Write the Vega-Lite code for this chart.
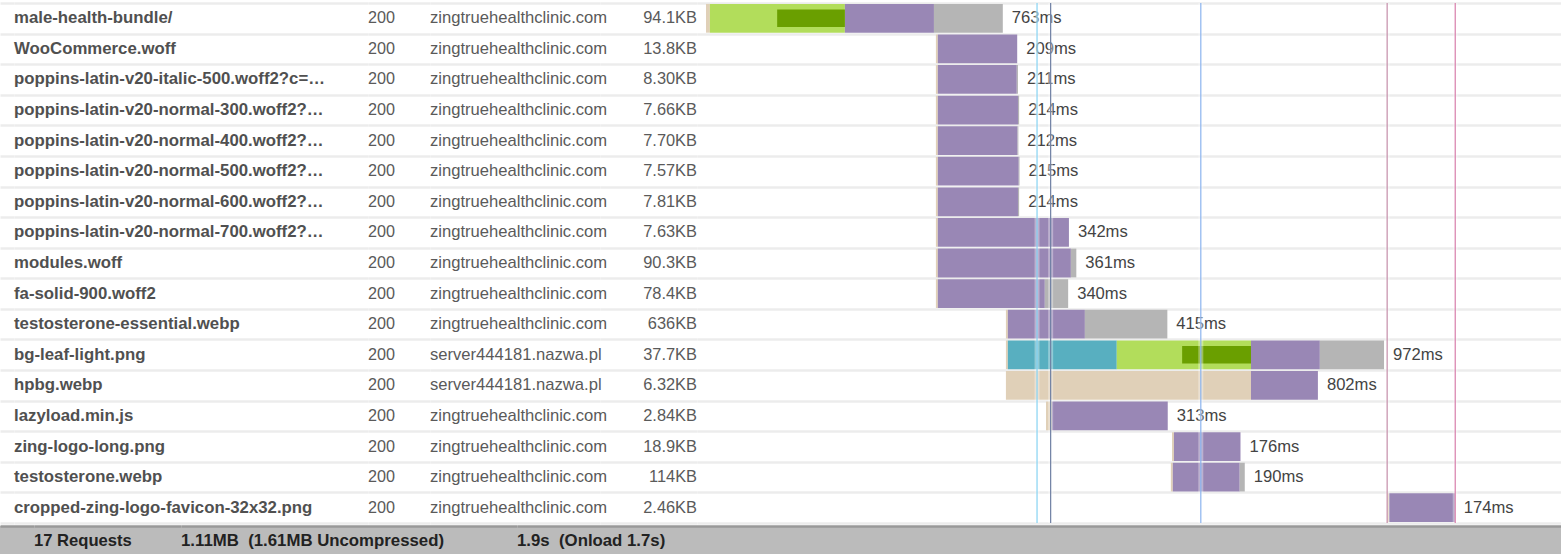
{
  "$schema": "https://vega.github.io/schema/vega-lite/v6.json",
  "background": "white",
  "padding": {"left": 0, "top": 0, "right": 0, "bottom": 0},
  "config": {"view": {"stroke": null}, "font": "Liberation Sans", "concat": {"spacing": 0}},
  "datasets": {
    "rows": [
      {"i": 1, "name": "male-health-bundle/", "status": "200", "domain": "zingtruehealthclinic.com", "size": "94.1KB", "label": "763ms", "end": 763},
      {"i": 2, "name": "WooCommerce.woff", "status": "200", "domain": "zingtruehealthclinic.com", "size": "13.8KB", "label": "209ms", "end": 800},
      {"i": 3, "name": "poppins-latin-v20-italic-500.woff2?c=…", "status": "200", "domain": "zingtruehealthclinic.com", "size": "8.30KB", "label": "211ms", "end": 802},
      {"i": 4, "name": "poppins-latin-v20-normal-300.woff2?…", "status": "200", "domain": "zingtruehealthclinic.com", "size": "7.66KB", "label": "214ms", "end": 805},
      {"i": 5, "name": "poppins-latin-v20-normal-400.woff2?…", "status": "200", "domain": "zingtruehealthclinic.com", "size": "7.70KB", "label": "212ms", "end": 803},
      {"i": 6, "name": "poppins-latin-v20-normal-500.woff2?…", "status": "200", "domain": "zingtruehealthclinic.com", "size": "7.57KB", "label": "215ms", "end": 806},
      {"i": 7, "name": "poppins-latin-v20-normal-600.woff2?…", "status": "200", "domain": "zingtruehealthclinic.com", "size": "7.81KB", "label": "214ms", "end": 805},
      {"i": 8, "name": "poppins-latin-v20-normal-700.woff2?…", "status": "200", "domain": "zingtruehealthclinic.com", "size": "7.63KB", "label": "342ms", "end": 933},
      {"i": 9, "name": "modules.woff", "status": "200", "domain": "zingtruehealthclinic.com", "size": "90.3KB", "label": "361ms", "end": 952},
      {"i": 10, "name": "fa-solid-900.woff2", "status": "200", "domain": "zingtruehealthclinic.com", "size": "78.4KB", "label": "340ms", "end": 931},
      {"i": 11, "name": "testosterone-essential.webp", "status": "200", "domain": "zingtruehealthclinic.com", "size": "636KB", "label": "415ms", "end": 1186},
      {"i": 12, "name": "bg-leaf-light.png", "status": "200", "domain": "server444181.nazwa.pl", "size": "37.7KB", "label": "972ms", "end": 1743},
      {"i": 13, "name": "hpbg.webp", "status": "200", "domain": "server444181.nazwa.pl", "size": "6.32KB", "label": "802ms", "end": 1573},
      {"i": 14, "name": "lazyload.min.js", "status": "200", "domain": "zingtruehealthclinic.com", "size": "2.84KB", "label": "313ms", "end": 1187},
      {"i": 15, "name": "zing-logo-long.png", "status": "200", "domain": "zingtruehealthclinic.com", "size": "18.9KB", "label": "176ms", "end": 1374},
      {"i": 16, "name": "testosterone.webp", "status": "200", "domain": "zingtruehealthclinic.com", "size": "114KB", "label": "190ms", "end": 1385},
      {"i": 17, "name": "cropped-zing-logo-favicon-32x32.png", "status": "200", "domain": "zingtruehealthclinic.com", "size": "2.46KB", "label": "174ms", "end": 1925}
    ],
    "segs": [
      {"i": 1, "phase": "blocked", "t0": 0, "t1": 10},
      {"i": 1, "phase": "connect", "t0": 10, "t1": 357},
      {"i": 1, "phase": "ssl", "t0": 183, "t1": 357},
      {"i": 1, "phase": "wait", "t0": 357, "t1": 586},
      {"i": 1, "phase": "receive", "t0": 586, "t1": 763},
      {"i": 2, "phase": "blocked", "t0": 591, "t1": 596},
      {"i": 2, "phase": "wait", "t0": 596, "t1": 800},
      {"i": 3, "phase": "blocked", "t0": 591, "t1": 596},
      {"i": 3, "phase": "wait", "t0": 596, "t1": 799},
      {"i": 3, "phase": "receive", "t0": 799, "t1": 802},
      {"i": 4, "phase": "blocked", "t0": 591, "t1": 596},
      {"i": 4, "phase": "wait", "t0": 596, "t1": 802},
      {"i": 4, "phase": "receive", "t0": 802, "t1": 805},
      {"i": 5, "phase": "blocked", "t0": 591, "t1": 596},
      {"i": 5, "phase": "wait", "t0": 596, "t1": 801},
      {"i": 5, "phase": "receive", "t0": 801, "t1": 803},
      {"i": 6, "phase": "blocked", "t0": 591, "t1": 596},
      {"i": 6, "phase": "wait", "t0": 596, "t1": 804},
      {"i": 6, "phase": "receive", "t0": 804, "t1": 806},
      {"i": 7, "phase": "blocked", "t0": 591, "t1": 596},
      {"i": 7, "phase": "wait", "t0": 596, "t1": 802},
      {"i": 7, "phase": "receive", "t0": 802, "t1": 805},
      {"i": 8, "phase": "blocked", "t0": 591, "t1": 596},
      {"i": 8, "phase": "wait", "t0": 596, "t1": 933},
      {"i": 9, "phase": "blocked", "t0": 591, "t1": 596},
      {"i": 9, "phase": "wait", "t0": 596, "t1": 938},
      {"i": 9, "phase": "receive", "t0": 938, "t1": 952},
      {"i": 10, "phase": "blocked", "t0": 591, "t1": 596},
      {"i": 10, "phase": "wait", "t0": 596, "t1": 871},
      {"i": 10, "phase": "receive", "t0": 871, "t1": 931},
      {"i": 11, "phase": "blocked", "t0": 771, "t1": 776},
      {"i": 11, "phase": "wait", "t0": 776, "t1": 974},
      {"i": 11, "phase": "receive", "t0": 974, "t1": 1186},
      {"i": 12, "phase": "blocked", "t0": 771, "t1": 776},
      {"i": 12, "phase": "dns", "t0": 776, "t1": 1056},
      {"i": 12, "phase": "connect", "t0": 1056, "t1": 1401},
      {"i": 12, "phase": "ssl", "t0": 1224, "t1": 1401},
      {"i": 12, "phase": "wait", "t0": 1401, "t1": 1578},
      {"i": 12, "phase": "receive", "t0": 1578, "t1": 1743},
      {"i": 13, "phase": "blocked", "t0": 771, "t1": 1401},
      {"i": 13, "phase": "wait", "t0": 1401, "t1": 1573},
      {"i": 14, "phase": "blocked", "t0": 874, "t1": 889},
      {"i": 14, "phase": "wait", "t0": 889, "t1": 1187},
      {"i": 15, "phase": "blocked", "t0": 1198, "t1": 1203},
      {"i": 15, "phase": "wait", "t0": 1203, "t1": 1374},
      {"i": 16, "phase": "blocked", "t0": 1195, "t1": 1200},
      {"i": 16, "phase": "wait", "t0": 1200, "t1": 1372},
      {"i": 16, "phase": "receive", "t0": 1372, "t1": 1385},
      {"i": 17, "phase": "blocked", "t0": 1751, "t1": 1756},
      {"i": 17, "phase": "wait", "t0": 1756, "t1": 1925}
    ],
    "events": [
      {"ev": "domInteractive", "t": 851},
      {"ev": "domContentLoaded", "t": 886},
      {"ev": "firstPaint", "t": 1272},
      {"ev": "onload", "t": 1751},
      {"ev": "fullyLoaded", "t": 1926}
    ]
  },
  "spacing": 0,
  "bounds": "full",
  "vconcat": [
    {
      "spacing": 0,
      "bounds": "flush",
      "hconcat": [
        {
          "width": 14, "height": 520,
          "data": {"name": "rows"},
          "mark": {"type": "text", "text": ""},
          "encoding": {
            "y": {"field": "i", "type": "ordinal", "scale": {"paddingInner": 0, "paddingOuter": 0},
                  "axis": {"grid": true, "tickBand": "extent", "labels": false, "ticks": false, "domain": false, "title": null, "gridColor": "#ECECEC", "gridWidth": 2.5}}
          }
        },
        {
          "width": 354, "height": 520,
          "data": {"name": "rows"},
          "mark": {"type": "text", "align": "left", "baseline": "middle", "fontWeight": "bold", "fontSize": 16.8, "color": "#505050"},
          "encoding": {
            "y": {"field": "i", "type": "ordinal", "scale": {"paddingInner": 0, "paddingOuter": 0},
                  "axis": {"grid": true, "tickBand": "extent", "labels": false, "ticks": false, "domain": false, "title": null, "gridColor": "#ECECEC", "gridWidth": 2.5}},
            "x": {"datum": "name", "type": "nominal", "scale": {"type": "point", "align": 0, "padding": 0}, "axis": null},
            "text": {"field": "name"}
          }
        },
        {
          "width": 62, "height": 520,
          "data": {"name": "rows"},
          "mark": {"type": "text", "align": "left", "baseline": "middle", "fontSize": 16.2, "color": "#5a5a5a"},
          "encoding": {
            "y": {"field": "i", "type": "ordinal", "scale": {"paddingInner": 0, "paddingOuter": 0},
                  "axis": {"grid": true, "tickBand": "extent", "labels": false, "ticks": false, "domain": false, "title": null, "gridColor": "#ECECEC", "gridWidth": 2.5}},
            "x": {"datum": "status", "type": "nominal", "scale": {"type": "point", "align": 0, "padding": 0}, "axis": null},
            "text": {"field": "status"}
          }
        },
        {
          "width": 170, "height": 520,
          "data": {"name": "rows"},
          "mark": {"type": "text", "align": "left", "baseline": "middle", "fontSize": 16.6, "color": "#5a5a5a"},
          "encoding": {
            "y": {"field": "i", "type": "ordinal", "scale": {"paddingInner": 0, "paddingOuter": 0},
                  "axis": {"grid": true, "tickBand": "extent", "labels": false, "ticks": false, "domain": false, "title": null, "gridColor": "#ECECEC", "gridWidth": 2.5}},
            "x": {"datum": "domain", "type": "nominal", "scale": {"type": "point", "align": 0, "padding": 0}, "axis": null},
            "text": {"field": "domain"}
          }
        },
        {
          "width": 97, "height": 520,
          "data": {"name": "rows"},
          "mark": {"type": "text", "align": "right", "baseline": "middle", "fontSize": 16.4, "color": "#5a5a5a"},
          "encoding": {
            "y": {"field": "i", "type": "ordinal", "scale": {"paddingInner": 0, "paddingOuter": 0},
                  "axis": {"grid": true, "tickBand": "extent", "labels": false, "ticks": false, "domain": false, "title": null, "gridColor": "#ECECEC", "gridWidth": 2.5}},
            "x": {"datum": "size", "type": "nominal", "scale": {"type": "point", "align": 1, "padding": 0}, "axis": null},
            "text": {"field": "size"}
          }
        },
        {
          "width": 864, "height": 520,
          "layer": [
            {
              "data": {"name": "segs"},
              "transform": [{"filter": "datum.phase !== 'ssl'"}],
              "mark": {"type": "bar", "height": {"band": 0.94}},
              "encoding": {
                "y": {"field": "i", "type": "ordinal", "scale": {"paddingInner": 0, "paddingOuter": 0},
                      "axis": {"grid": true, "tickBand": "extent", "labels": false, "ticks": false, "domain": false, "title": null, "gridColor": "#ECECEC", "gridWidth": 2.5}},
                "x": {"field": "t0", "type": "quantitative", "scale": {"domain": [-23.1, 2197.9], "nice": false, "zero": false}, "axis": null},
                "x2": {"field": "t1"},
                "color": {"field": "phase", "type": "nominal", "legend": null,
                          "scale": {"domain": ["blocked", "dns", "connect", "ssl", "wait", "receive"],
                                    "range": ["#E0D0B8", "#58AFC0", "#B2DD5B", "#6A9F00", "#9987B5", "#B5B5B5"]}}
              }
            },
            {
              "data": {"name": "segs"},
              "transform": [{"filter": "datum.phase === 'ssl'"}],
              "mark": {"type": "bar", "height": {"band": 0.57}},
              "encoding": {
                "y": {"field": "i", "type": "ordinal"},
                "x": {"field": "t0", "type": "quantitative"},
                "x2": {"field": "t1"},
                "color": {"field": "phase", "type": "nominal", "legend": null}
              }
            },
            {
              "data": {"name": "rows"},
              "mark": {"type": "text", "align": "left", "baseline": "middle", "dx": 9, "fontSize": 16.6, "color": "#444444"},
              "encoding": {
                "y": {"field": "i", "type": "ordinal"},
                "x": {"field": "end", "type": "quantitative"},
                "text": {"field": "label"}
              }
            },
            {
              "data": {"name": "events"},
              "mark": {"type": "rule", "strokeWidth": 5, "color": "white", "opacity": 0.35},
              "encoding": {"x": {"field": "t", "type": "quantitative"}}
            },
            {
              "data": {"name": "events"},
              "mark": {"type": "rule", "strokeWidth": 1.2},
              "encoding": {
                "x": {"field": "t", "type": "quantitative"},
                "stroke": {"field": "ev", "type": "nominal", "legend": null,
                           "scale": {"domain": ["domInteractive", "domContentLoaded", "firstPaint", "onload", "fullyLoaded"],
                                     "range": ["#87D3F3", "#6E7FA3", "#8BB3EF", "#C58DAA", "#D77DAA"]}}
              }
            }
          ]
        }
      ]
    },
    {
      "spacing": 0,
      "bounds": "flush",
      "hconcat": [
        {
          "width": 34, "height": 30, "view": {"fill": "#BBBBBB"},
          "data": {"values": [{"t": ""}]},
          "mark": {"type": "text"},
          "encoding": {
            "x": {"datum": "s", "type": "nominal", "scale": {"type": "point", "align": 0, "padding": 0},
                  "axis": {"orient": "top", "domain": true, "domainColor": "#999999", "domainWidth": 2.5, "labels": false, "ticks": false, "title": null, "grid": false}},
            "text": {"field": "t"}
          }
        },
        {
          "width": 147, "height": 30, "view": {"fill": "#BBBBBB"},
          "data": {"values": [{"t": "17 Requests"}]},
          "mark": {"type": "text", "align": "left", "baseline": "middle", "fontWeight": "bold", "fontSize": 16.6, "color": "#222222"},
          "encoding": {
            "x": {"datum": "a", "type": "nominal", "scale": {"type": "point", "align": 0, "padding": 0},
                  "axis": {"orient": "top", "domain": true, "domainColor": "#999999", "domainWidth": 2.5, "labels": false, "ticks": false, "title": null, "grid": false}},
            "text": {"field": "t"}
          }
        },
        {
          "width": 336, "height": 30, "view": {"fill": "#BBBBBB"},
          "data": {"values": [{"t": "1.11MB\u00a0 (1.61MB Uncompressed)"}]},
          "mark": {"type": "text", "align": "left", "baseline": "middle", "fontWeight": "bold", "fontSize": 16.8, "color": "#222222"},
          "encoding": {
            "x": {"datum": "b", "type": "nominal", "scale": {"type": "point", "align": 0, "padding": 0},
                  "axis": {"orient": "top", "domain": true, "domainColor": "#999999", "domainWidth": 2.5, "labels": false, "ticks": false, "title": null, "grid": false}},
            "text": {"field": "t"}
          }
        },
        {
          "width": 1044, "height": 30, "view": {"fill": "#BBBBBB"},
          "data": {"values": [{"t": "1.9s\u00a0 (Onload 1.7s)"}]},
          "mark": {"type": "text", "align": "left", "baseline": "middle", "fontWeight": "bold", "fontSize": 16.8, "color": "#222222"},
          "encoding": {
            "x": {"datum": "c", "type": "nominal", "scale": {"type": "point", "align": 0, "padding": 0},
                  "axis": {"orient": "top", "domain": true, "domainColor": "#999999", "domainWidth": 2.5, "labels": false, "ticks": false, "title": null, "grid": false}},
            "text": {"field": "t"}
          }
        }
      ]
    }
  ]
}
